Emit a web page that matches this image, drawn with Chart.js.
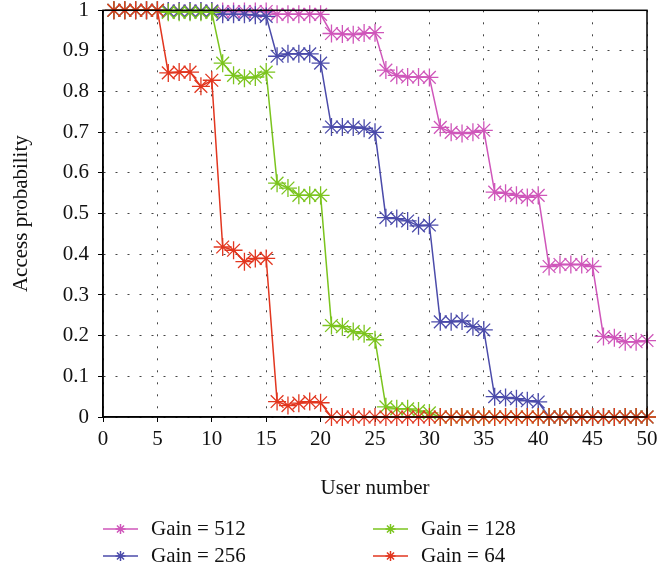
<!DOCTYPE html>
<html>
<head>
<meta charset="utf-8">
<script src="https://cdn.jsdelivr.net/npm/chart.js@4"></script>
<style>
  html, body { margin: 0; padding: 0; background: #fff; }
  #wrap { width: 672px; height: 569px; }
</style>
</head>
<body>
<div id="wrap"><canvas id="accessChart" width="672" height="569"></canvas></div>
<script>
// Número de usuario (eje x)
const userNumbers = [1, 2, 3, 4, 5, 6, 7, 8, 9, 10, 11, 12, 13, 14, 15, 16, 17, 18, 19, 20,
  21, 22, 23, 24, 25, 26, 27, 28, 29, 30, 31, 32, 33, 34, 35, 36, 37, 38, 39, 40,
  41, 42, 43, 44, 45, 46, 47, 48, 49, 50];

// Probabilidad de acceso para cada ganancia
const gain512 = [1, 1, 1, 1, 1, 0.998, 0.998, 0.998, 0.998, 0.998,
  0.997, 0.997, 0.997, 0.997, 0.997, 0.99, 0.99, 0.99, 0.99, 0.99,
  0.943, 0.942, 0.94, 0.944, 0.945, 0.853, 0.84, 0.836, 0.836, 0.835,
  0.712, 0.7, 0.697, 0.7, 0.705, 0.553, 0.55, 0.545, 0.54, 0.545,
  0.37, 0.375, 0.375, 0.375, 0.37, 0.198, 0.195, 0.185, 0.185, 0.188];
const gain256 = [1, 1, 1, 1, 1, 0.998, 0.998, 0.998, 0.998, 0.998,
  0.99, 0.99, 0.99, 0.988, 0.985, 0.887, 0.893, 0.893, 0.893, 0.87,
  0.713, 0.713, 0.713, 0.71, 0.7, 0.49, 0.488, 0.482, 0.47, 0.472,
  0.234, 0.234, 0.236, 0.222, 0.214, 0.05, 0.048, 0.045, 0.04, 0.037,
  0, 0, 0, 0, 0, 0, 0, 0, 0, 0];
const gain128 = [1, 1, 1, 1, 1, 0.995, 0.995, 0.995, 0.995, 0.995,
  0.87, 0.84, 0.833, 0.836, 0.848, 0.575, 0.563, 0.545, 0.545, 0.545,
  0.225, 0.222, 0.21, 0.205, 0.19, 0.025, 0.02, 0.02, 0.015, 0.01,
  0, 0, 0, 0, 0, 0, 0, 0, 0, 0, 0, 0, 0, 0, 0, 0, 0, 0, 0, 0];
const gain64 = [1, 1, 1, 1, 1, 0.846, 0.848, 0.848, 0.813, 0.828,
  0.418, 0.41, 0.382, 0.39, 0.39, 0.038, 0.028, 0.034, 0.038, 0.035,
  0, 0, 0, 0, 0, 0, 0, 0, 0, 0, 0, 0, 0, 0, 0, 0, 0, 0, 0, 0,
  0, 0, 0, 0, 0, 0, 0, 0, 0, 0];

const seriesLabels = ['Gain = 512', 'Gain = 256', 'Gain = 128', 'Gain = 64'];
const seriesValues = [gain512, gain256, gain128, gain64];
const seriesColors = ['#cf56ba', '#4b4baa', '#7bc41e', '#e2361f'];

const FONT = "'Liberation Serif', 'Times New Roman', serif";
const FONT_SIZE = 21;

// Dibuja el marco completo del área del gráfico
const framePlugin = {
  id: 'frame',
  afterDatasetsDraw(chart) {
    const { ctx, chartArea: a } = chart;
    ctx.save();
    ctx.strokeStyle = '#000';
    ctx.lineWidth = 1.5;
    ctx.strokeRect(a.left, a.top, a.right - a.left, a.bottom - a.top);
    ctx.restore();
  }
};

// Leyenda en dos columnas debajo del eje x
const legendPlugin = {
  id: 'gridLegend',
  afterDraw(chart) {
    const { ctx } = chart;
    const cols = [103, 373];
    const rows = [529, 556];
    chart.data.datasets.forEach((ds, i) => {
      const x0 = cols[Math.floor(i / 2)];
      const y = rows[i % 2];
      ctx.save();
      ctx.strokeStyle = ds.borderColor;
      ctx.lineWidth = 1.5;
      ctx.beginPath();
      ctx.moveTo(x0, y);
      ctx.lineTo(x0 + 35, y);
      ctx.stroke();
      Chart.helpers.drawPoint(ctx, { pointStyle: 'star', radius: 5, borderWidth: 1.2 }, x0 + 17.5, y);
      ctx.fillStyle = '#111';
      ctx.font = FONT_SIZE + 'px ' + FONT;
      ctx.textBaseline = 'middle';
      ctx.fillText(ds.label, x0 + 48, y);
      ctx.restore();
    });
  }
};

const datasets = seriesLabels.map((label, i) => ({
  label,
  data: userNumbers.map((u, k) => ({ x: u, y: seriesValues[i][k] })),
  borderColor: seriesColors[i],
  backgroundColor: seriesColors[i],
  borderWidth: 1.5,
  pointStyle: 'star',
  pointRadius: 9,
  pointBorderWidth: 1.3,
  pointBorderColor: seriesColors[i],
  tension: 0,
  clip: false,
  order: seriesLabels.length - i
}));

// Rejilla punteada y marcas cortas hacia fuera
const gridOpts = { color: '#444', lineWidth: 1, tickLength: 5, tickBorderDash: [], tickColor: '#000' };
const borderOpts = { display: true, color: '#000', width: 1.5, dash: [2, 10] };

const ctx = document.getElementById('accessChart').getContext('2d');
new Chart(ctx, {
  type: 'line',
  data: { datasets },
  options: {
    responsive: false,
    animation: false,
    layout: { padding: { top: 10, right: 25, left: 0, bottom: 0 } },
    plugins: { legend: { display: false }, tooltip: { enabled: false } },
    scales: {
      x: {
        type: 'linear',
        min: 0,
        max: 50,
        afterFit(scale) { scale.height = 152; },
        ticks: { stepSize: 5, color: '#111', padding: 5, font: { family: FONT, size: FONT_SIZE } },
        grid: gridOpts,
        border: borderOpts,
        title: { display: true, text: 'User number', color: '#111', font: { family: FONT, size: FONT_SIZE }, padding: { top: 4, bottom: 68 } }
      },
      y: {
        min: 0,
        max: 1,
        afterFit(scale) {
          scale.width = 103;
          // la etiqueta "1" puede sobresalir por arriba
          scale.paddingTop = 0;
          scale.paddingBottom = 0;
        },
        ticks: {
          stepSize: 0.1,
          color: '#111',
          padding: 9,
          font: { family: FONT, size: FONT_SIZE },
          callback: v => String(Number(v.toFixed(1)))
        },
        grid: gridOpts,
        border: borderOpts,
        title: { display: true, text: 'Access probability', color: '#111', font: { family: FONT, size: FONT_SIZE }, padding: { top: 9, bottom: 0 } }
      }
    }
  },
  plugins: [framePlugin, legendPlugin]
});
</script>
</body>
</html>
